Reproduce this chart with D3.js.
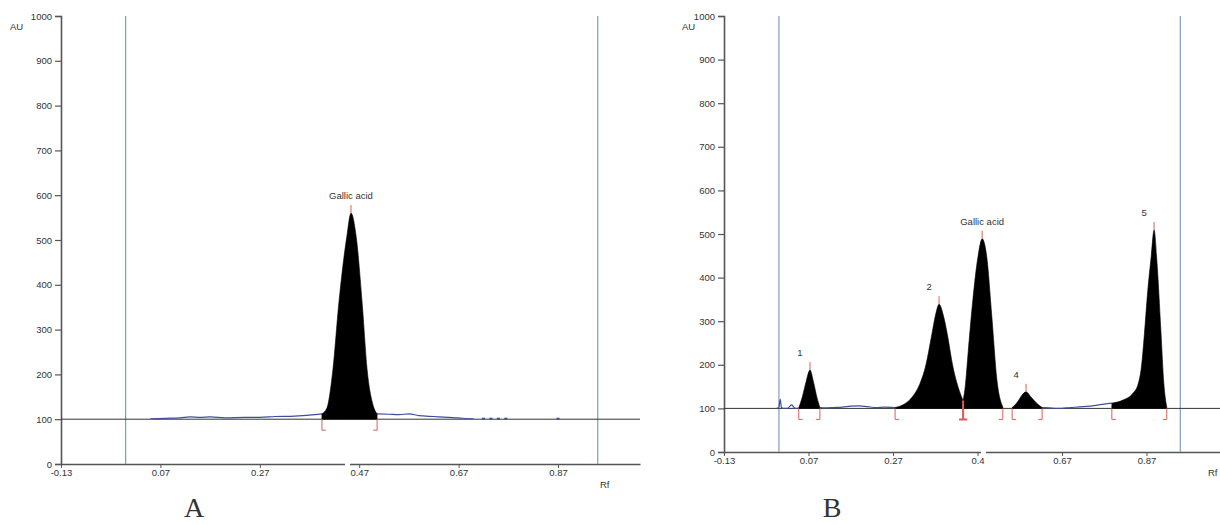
<!DOCTYPE html>
<html>
<head>
<meta charset="utf-8">
<script src="https://cdn.jsdelivr.net/npm/d3@7"></script>
<style>
  body { margin: 0; background: #fff; }
  svg { display: block; }
  text { fill: #333; }
</style>
</head>
<body>
<script>
// tick values
const auTicks = [0, 100, 200, 300, 400, 500, 600, 700, 800, 900, 1000]
const rfTicks = [-0.13, 0.07, 0.27, 0.47, 0.67, 0.87]
const rfLabelsA = ["-0.13", "0.07", "0.27", "0.47", "0.67", "0.87"]
const rfLabelsB = ["-0.13", "0.07", "0.27", "0.4", "0.67", "0.87"]
const frontLines = [0.0, 0.95]

// panel A - blue background trace [Rf, AU]
const traceA1 = [[0.05, 101], [0.08, 102], [0.11, 103], [0.13, 105], [0.15, 104], [0.17, 105], [0.20, 103], [0.24, 104], [0.27, 104], [0.30, 106], [0.34, 107], [0.37, 109], [0.395, 112]]
const traceA2 = [[0.506, 112], [0.53, 111], [0.55, 110], [0.57, 112], [0.59, 108], [0.62, 106], [0.65, 104], [0.67, 103], [0.69, 101], [0.70, 101]]
const dotsA = [0.72, 0.735, 0.75, 0.765, 0.87]

// panel A - peak
const peaksA = [
  {name: "Gallic acid", numbered: false, pts: [[0.395, 112], [0.405, 125], [0.417, 210], [0.429, 359], [0.445, 507], [0.4535, 560], [0.464, 507], [0.476, 359], [0.486, 210], [0.497, 135], [0.506, 112]]}
]

// panel B - blue background trace
const traceB = [
  [[-0.005, 100], [0.0, 103], [0.003, 121], [0.006, 102], [0.01, 100], [0.02, 100], [0.025, 104], [0.03, 108], [0.035, 103], [0.04, 100], [0.047, 101]],
  [[0.097, 102], [0.11, 101], [0.13, 102], [0.15, 103], [0.17, 105], [0.19, 106], [0.21, 104], [0.23, 102], [0.25, 103], [0.275, 102]],
  [[0.623, 102], [0.64, 101], [0.66, 100], [0.69, 102], [0.72, 104], [0.75, 107], [0.77, 110], [0.788, 112]]
]

// panel B - peaks
const peaksB = [
  {name: "1", numbered: true, pts: [[0.047, 101], [0.055, 125], [0.064, 160], [0.0735, 188], [0.082, 160], [0.09, 125], [0.097, 102]]},
  {name: "2", numbered: true, pts: [[0.275, 102], [0.297, 110], [0.317, 128], [0.333, 155], [0.348, 200], [0.362, 270], [0.372, 320], [0.379, 339], [0.39, 310], [0.398, 273], [0.412, 195], [0.429, 135], [0.436, 118]]},
  {name: "Gallic acid", numbered: false, pts: [[0.436, 118], [0.441, 150], [0.448, 230], [0.459, 349], [0.471, 447], [0.481, 489], [0.492, 447], [0.504, 310], [0.516, 165], [0.53, 103]]},
  {name: "4", numbered: true, pts: [[0.552, 102], [0.565, 115], [0.575, 130], [0.585, 138], [0.595, 128], [0.61, 112], [0.623, 102]]},
  {name: "5", numbered: true, pts: [[0.788, 112], [0.814, 119], [0.838, 135], [0.85, 155], [0.858, 195], [0.865, 270], [0.873, 370], [0.881, 447], [0.888, 509], [0.895, 433], [0.904, 280], [0.911, 158], [0.918, 103]]}
]
const valleysB = [0.436]

const w = 1220
const h = 525
const sans = "Arial, 'Liberation Sans', sans-serif"
const red = "#d9605a"
const svg = d3.select("body").append("svg").attr("width", w).attr("height", h)

function panel(o) {
  const x = d3.scaleLinear().domain(o.xDomain).range(o.xRange)
  const y = d3.scaleLinear().domain([0, 1000]).range(o.yRange)
  const g = svg.append("g")
  const x0 = o.xRange[0], yb = y(100)

  // y axis
  const ya = g.append("g").attr("transform", "translate(" + x0 + ",0)")
    .call(d3.axisLeft(y).tickValues(auTicks).tickSize(6).tickFormat(d3.format("d")))
  ya.select(".domain").attr("stroke", "#555").attr("stroke-width", 1.6)
  ya.selectAll(".tick line").attr("stroke", "#555").attr("stroke-width", 1.2)
  ya.selectAll(".tick text").attr("font-size", 9.5).attr("fill", "#333").attr("font-family", sans)

  // x axis
  const xa = g.append("g").attr("transform", "translate(0," + o.yRange[0] + ")")
    .call(d3.axisBottom(x).tickValues(rfTicks).tickSize(4).tickSizeOuter(0).tickFormat((d, i) => o.labels[i]))
  xa.select(".domain").attr("stroke", "#555").attr("stroke-width", 1.6)
  xa.selectAll(".tick line").attr("stroke", "#555")
  xa.selectAll(".tick text").attr("font-size", 9.5).attr("fill", "#333").attr("dy", "0.5em").attr("font-family", sans)
  // small break in the axis line
  g.append("rect").attr("x", o.gap[0]).attr("y", o.yRange[0] - 2).attr("width", o.gap[1] - o.gap[0]).attr("height", 4).attr("fill", "#fff")

  g.append("text").attr("x", o.auPos[0]).attr("y", o.auPos[1]).attr("font-size", 9.5).attr("font-family", sans).text("AU")
  g.append("text").attr("x", o.rfPos[0]).attr("y", o.rfPos[1]).attr("font-size", 9.5).attr("font-family", sans).text("Rf")

  // solvent front lines
  g.selectAll(".front").data(frontLines).enter().append("line")
    .attr("x1", d => x(d)).attr("x2", d => x(d)).attr("y1", y(1000)).attr("y2", o.yRange[0])
    .attr("stroke", o.frontColor).attr("stroke-width", 1.2)

  // baseline
  g.append("line").attr("x1", x0).attr("x2", o.xRange[1]).attr("y1", yb).attr("y2", yb)
    .attr("stroke", "#333").attr("stroke-width", 1)

  const line = d3.line().x(d => x(d[0])).y(d => y(d[1])).curve(d3.curveMonotoneX)
  g.selectAll(".trace").data(o.traces).enter().append("path")
    .attr("d", line).attr("fill", "none").attr("stroke", "#3b4f9e").attr("stroke-width", 1.2)
  g.selectAll(".dot").data(o.dots || []).enter().append("rect")
    .attr("x", d => x(d) - 1.5).attr("y", yb - 1.5).attr("width", 3).attr("height", 2).attr("fill", "#3b4f9e")

  const area = d3.area().x(d => x(d[0])).y0(yb).y1(d => y(d[1])).curve(d3.curveMonotoneX)
  o.peaks.forEach(p => {
    g.append("path").attr("d", area(p.pts)).attr("fill", "#000").attr("stroke", "#000").attr("stroke-width", 0.6)
    const top = p.pts.reduce((a, b) => b[1] > a[1] ? b : a)
    const tx = x(top[0]), ty = y(top[1])
    g.append("line").attr("x1", tx).attr("x2", tx).attr("y1", ty).attr("y2", ty - 8).attr("stroke", red).attr("stroke-width", 1)
    g.append("text").attr("x", p.numbered ? tx - 10 : tx).attr("y", ty - 14)
      .attr("text-anchor", "middle").attr("font-size", 9.5).attr("font-family", sans).text(p.name)
    // integration brackets
    const s = x(p.pts[0][0]), e = x(p.pts[p.pts.length - 1][0])
    g.append("path").attr("d", "M" + s + "," + yb + "V" + (yb + 11) + "h4").attr("fill", "none").attr("stroke", red).attr("stroke-width", 1)
    g.append("path").attr("d", "M" + e + "," + yb + "V" + (yb + 11) + "h-4").attr("fill", "none").attr("stroke", red).attr("stroke-width", 1)
  })

  // shared valley marks between touching peaks
  g.selectAll(".valley").data(o.valleys || []).enter().append("path")
    .attr("d", d => "M" + x(d) + "," + (yb - 8) + "V" + (yb + 11) + "M" + (x(d) - 4) + "," + (yb + 11) + "h8")
    .attr("fill", "none").attr("stroke", red).attr("stroke-width", 2)

  g.append("text").attr("x", o.letter[0]).attr("y", o.letter[1]).attr("text-anchor", "middle")
    .attr("font-family", "'Liberation Serif', 'DejaVu Serif', serif").attr("font-size", 28).attr("fill", "#000").text(o.name)
}

panel({name: "A", xDomain: [-0.13, 1.035], xRange: [61, 640], yRange: [464, 16], labels: rfLabelsA,
  gap: [345, 350], auPos: [10, 30], rfPos: [600, 488], frontColor: "#6fa89e",
  traces: [traceA1, traceA2], dots: dotsA, peaks: peaksA, letter: [194, 517]})

panel({name: "B", xDomain: [-0.13, 1.044], xRange: [724, 1220], yRange: [452, 16], labels: rfLabelsB,
  gap: [981, 986], auPos: [682, 30], rfPos: [1208, 476], frontColor: "#7f9cc4",
  traces: traceB, dots: [], peaks: peaksB, valleys: valleysB, letter: [832, 517]})
</script>
</body>
</html>
